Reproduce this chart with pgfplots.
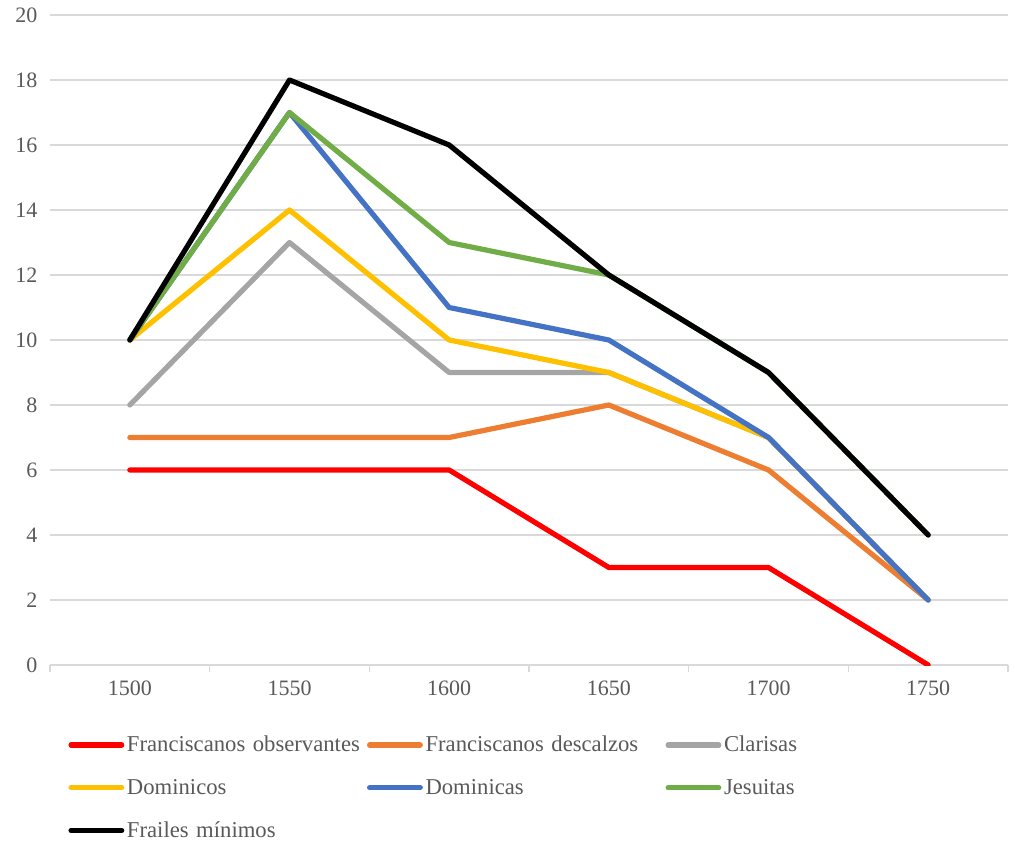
\documentclass[border=0pt]{standalone}
\usepackage{fontspec}
\setmainfont{Liberation Serif}
\usepackage{pgfplots}
\pgfplotsset{compat=1.18}
\definecolor{cRed}{HTML}{FF0000}
\definecolor{cOrange}{HTML}{ED7D31}
\definecolor{cGray}{HTML}{A5A5A5}
\definecolor{cYellow}{HTML}{FFC000}
\definecolor{cBlue}{HTML}{4472C4}
\definecolor{cGreen}{HTML}{70AD47}
\definecolor{txt}{HTML}{595959}
\definecolor{gridc}{HTML}{D9D9D9}
\begin{document}
\begin{tikzpicture}
\begin{axis}[
  scale only axis,
  width=718.5pt, height=487.5pt,
  xmin=-0.5, xmax=5.5, ymin=0, ymax=20,
  xtick={0,1,2,3,4,5},
  xticklabels={1500,1550,1600,1650,1700,1750},
  minor xtick={-0.5,0.5,1.5,2.5,3.5,4.5,5.5},
  major x tick style={draw=none},
  minor x tick style={draw=gridc, line width=1pt},
  minor tick length=5pt,
  xtick align=outside,
  ytick={0,2,...,20},
  ymajorgrids, xmajorgrids=false, xminorgrids=false,
  major grid style={draw=gridc, line width=1.1pt},
  y tick style={draw=none},
  axis x line*=bottom,
  axis y line*=left,
  x axis line style={draw=gridc, line width=1.1pt},
  y axis line style={draw=none},
  tick label style={font=\fontsize{16.5}{19}\selectfont, text=txt},
  /pgf/number format/assume math mode=true,
  yticklabel style={xshift=-6pt},
  xticklabel style={yshift=-4pt},
  every axis plot/.append style={line width=3.9pt, line join=round, line cap=round},
  legend image code/.code={\draw[#1] (0pt,0pt) -- (38pt,0pt);},
  legend columns=3,
  legend cell align=left,
  legend style={
    draw=none, fill=none, inner sep=0pt,
    at={(0.019,-0.105)}, anchor=north west,
    font=\fontsize{17}{19}\selectfont, text=txt,
    nodes={text width=178pt, inner xsep=2pt, anchor=west},
    /tikz/every odd column/.append style={column sep=0pt},
    row sep=15pt,
  },
]
\addplot[cRed] coordinates {(0,6) (1,6) (2,6) (3,3) (4,3) (5,0)};
\addlegendentry{Franciscanos observantes}
\addplot[cOrange] coordinates {(0,7) (1,7) (2,7) (3,8) (4,6) (5,2)};
\addlegendentry{Franciscanos descalzos}
\addplot[cGray] coordinates {(0,8) (1,13) (2,9) (3,9) (4,7) (5,2)};
\addlegendentry{Clarisas}
\addplot[cYellow] coordinates {(0,10) (1,14) (2,10) (3,9) (4,7) (5,2)};
\addlegendentry{Dominicos}
\addplot[cBlue] coordinates {(0,10) (1,17) (2,11) (3,10) (4,7) (5,2)};
\addlegendentry{Dominicas}
\addplot[cGreen] coordinates {(0,10) (1,17) (2,13) (3,12) (4,9) (5,4)};
\addlegendentry{Jesuitas}
\addplot[black] coordinates {(0,10) (1,18) (2,16) (3,12) (4,9) (5,4)};
\addlegendentry{Frailes mínimos}
\coordinate (bl) at (rel axis cs:0,0);
\coordinate (tr) at (rel axis cs:1,1);
\end{axis}
\pgfresetboundingbox
\path[use as bounding box] ([xshift=-37.5pt,yshift=-135pt]bl) rectangle ([xshift=5.25pt,yshift=11.25pt]tr);
\end{tikzpicture}
\end{document}
